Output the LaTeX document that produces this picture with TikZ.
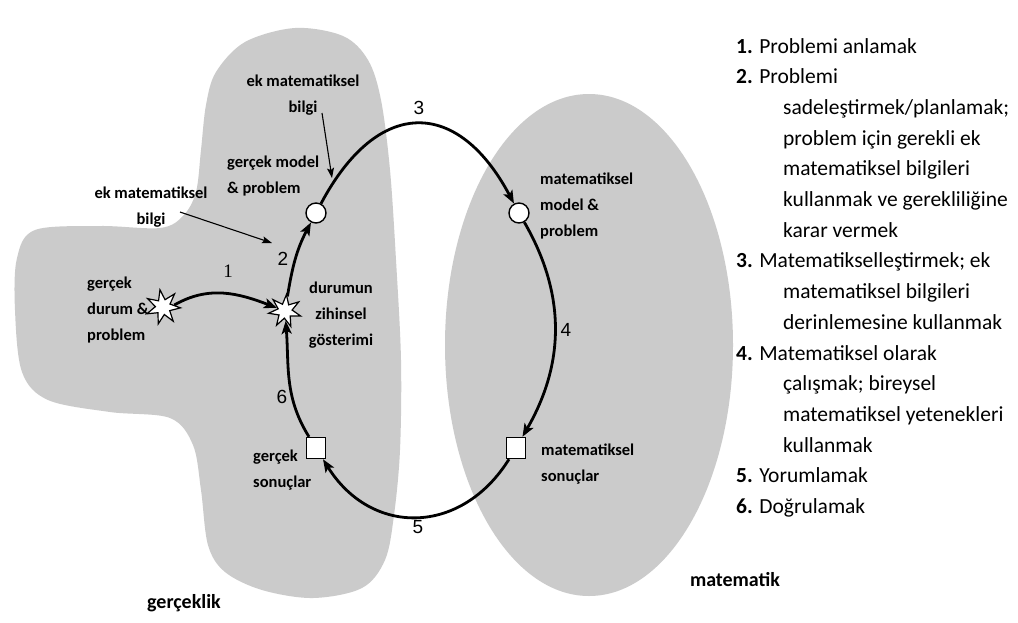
\documentclass[tikz,border=0pt]{standalone}
\usepackage{fontspec}
\setmainfont{Carlito}
\newfontfamily\numfont{Liberation Sans}
\newfontfamily\serfont{Liberation Serif}
\usetikzlibrary{shapes.geometric,arrows.meta}
\definecolor{regiongray}{RGB}{203,203,203}
\begin{document}
\begin{tikzpicture}[x=1pt,y=1pt,
  lbl/.style={font=\fontsize{16.5}{26}\selectfont\bfseries, align=left, inner sep=0pt},
  lblc/.style={lbl, align=center},
  regionlbl/.style={font=\fontsize{20}{24}\selectfont\bfseries, inner sep=0pt},
  stepnum/.style={font=\numfont\fontsize{19}{19}\selectfont, inner sep=0pt},
  cyc/.style={line width=2.8pt, -{Stealth[length=13pt,width=10pt,inset=3pt]}},
  thinarr/.style={line width=1.1pt, -{Stealth[length=10pt,width=7pt,inset=2pt]}},
  roundpt/.style={circle, draw, fill=white, line width=1.4pt, minimum size=20pt, inner sep=0pt},
  squarept/.style={rectangle, draw, fill=white, line width=1.4pt, minimum width=19pt, minimum height=21pt, inner sep=0pt},
  burst/.style={star, star points=7, star point ratio=2.3, draw, fill=white, line width=1.2pt, inner sep=0pt},
  listtxt/.style={font=\fontsize{21.5}{26}\selectfont, anchor=base west, inner sep=0pt},
]
\useasboundingbox (0,0) rectangle (1018,-622);
\fill[white] (0,0) rectangle (1018,-622);

% the two regions: reality (left) and mathematics (right)
\fill[regiongray] plot[smooth cycle, tension=0.55] coordinates {
  (295,-28) (343,-36) (368,-60) (381,-100) (390,-170) (396,-260) (401,-360)
  (400,-450) (394,-515) (385,-560) (362,-588) (313,-598) (262,-590)
  (225,-572) (208,-545) (201,-490) (193,-445) (170,-418) (110,-412)
  (48,-400) (22,-372) (15,-310) (17,-258) (35,-230) (100,-226) (160,-228)
  (183,-216) (196,-192) (201,-150) (206,-105) (216,-72) (245,-42)};
\fill[regiongray] (589,-345) ellipse[x radius=144, y radius=251];

% stations of the cycle
\node[burst, minimum size=35pt, rotate=10] (G) at (163,-307) {};
\node[burst, minimum size=33pt, rotate=-5] (D) at (285,-311) {};
\node[roundpt] (c1) at (316,-213) {};
\node[roundpt] (c2) at (519,-213) {};
\node[squarept] (s1) at (316,-448) {};
\node[squarept] (s2) at (516,-448) {};

% labels of the stations
\node[lbl, anchor=west] (gdurum) at (87,-310) {gerçek\\durum \&\\problem};
\node[lblc] (durumun) at (341,-315) {durumun\\zihinsel\\gösterimi};
\node[lbl, anchor=west] (gmodel) at (227,-176) {gerçek model\\\& problem};
\node[lbl, anchor=west] (mmodel) at (540,-206) {matematiksel\\model \&\\problem};
\node[lbl, anchor=west] (msonuc) at (541,-464) {matematiksel\\sonuçlar};
\node[lbl, anchor=west] (gsonuc) at (253,-470) {gerçek\\sonuçlar};
\node[lblc] (ekTop) at (303,-95) {ek matematiksel\\bilgi};
\node[lblc] (ekLeft) at (151,-207) {ek matematiksel\\bilgi};

% region names
\node[regionlbl] (gerceklik) at (184,-603) {gerçeklik};
\node[regionlbl] (matematik) at (735,-580) {matematik};

% extra knowledge entering the cycle
\coordinate (ekTopS) at (322,-113);
\coordinate (ekTopE) at (332,-178);
\coordinate (ekLeftS) at (180,-212);
\coordinate (ekLeftE) at (272,-243);
\draw[thinarr] (ekTopS) -- (ekTopE);
\draw[thinarr] (ekLeftS) -- (ekLeftE);

% the modelling cycle
\draw[cyc] (G.east) to[out=30,in=160] (D);
\draw[cyc] (D) to[out=82,in=-118] (c1);
\draw[cyc] (c1) to[out=62,in=118,looseness=1.6] (c2);
\draw[cyc] (c2) to[out=-60,in=60,looseness=1.0] (s2);
\draw[cyc] (s2) to[out=-122,in=-58,looseness=1.25] (s1);
\draw[cyc] (s1) to[out=122,in=-85] (D);

% step numbers
\node[font=\serfont\fontsize{19}{19}\selectfont, inner sep=0pt] (n1) at (228,-271) {1};
\node[stepnum] (n2) at (283,-259) {2};
\node[stepnum] (n3) at (419,-108) {3};
\node[stepnum] (n4) at (566,-330) {4};
\node[stepnum] (n5) at (418,-527) {5};
\node[stepnum] (n6) at (282,-397) {6};

% legend of the steps
\node[listtxt] (l0)  at (736,-53)    {\textbf{1.} Problemi anlamak};
\node[listtxt] (l1)  at (736,-83.7)  {\textbf{2.} Problemi};
\node[listtxt] (l2)  at (783,-114.4) {sadeleştirmek/planlamak;};
\node[listtxt] (l3)  at (783,-145.1) {problem için gerekli ek};
\node[listtxt] (l4)  at (783,-175.8) {matematiksel bilgileri};
\node[listtxt] (l5)  at (783,-206.5) {kullanmak ve gerekliliğine};
\node[listtxt] (l6)  at (783,-237.2) {karar vermek};
\node[listtxt] (l7)  at (736,-267.9) {\textbf{3.} Matematikselleştirmek; ek};
\node[listtxt] (l8)  at (783,-298.6) {matematiksel bilgileri};
\node[listtxt] (l9)  at (783,-329.3) {derinlemesine kullanmak};
\node[listtxt] (l10) at (736,-360)   {\textbf{4.} Matematiksel olarak};
\node[listtxt] (l11) at (783,-390.7) {çalışmak; bireysel};
\node[listtxt] (l12) at (783,-421.4) {matematiksel yetenekleri};
\node[listtxt] (l13) at (783,-452.1) {kullanmak};
\node[listtxt] (l14) at (736,-482.8) {\textbf{5.} Yorumlamak};
\node[listtxt] (l15) at (736,-513.5) {\textbf{6.} Doğrulamak};
\end{tikzpicture}
\end{document}
